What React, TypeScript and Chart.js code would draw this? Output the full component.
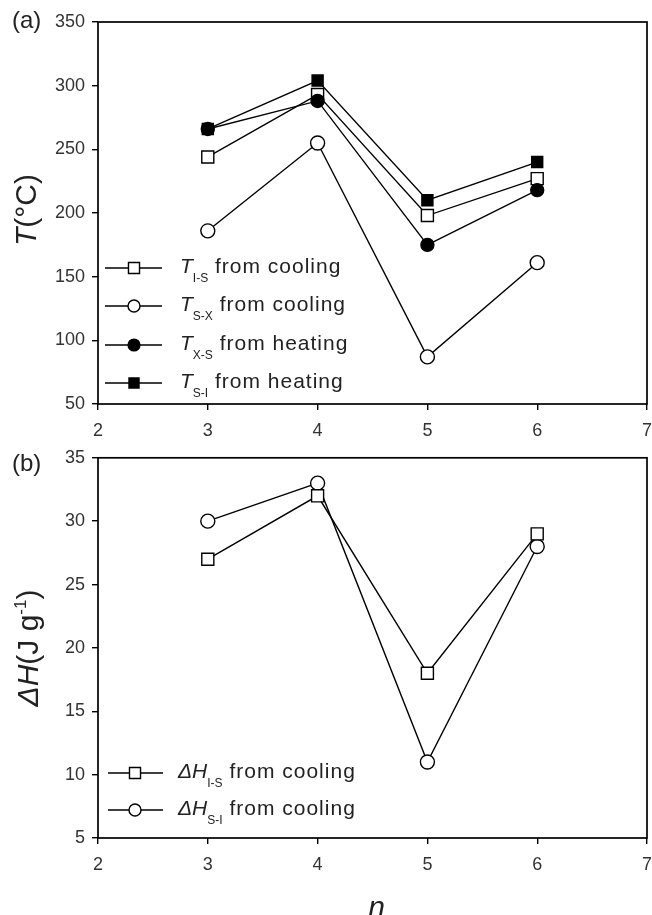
import React, { useEffect, useRef } from 'react';
import { Chart, registerables } from 'chart.js';

Chart.register(...registerables);

const FONT = '"Liberation Sans", Arial, Helvetica, sans-serif';

// ---- data ----
const nValues = [3, 4, 5, 6];
const tIS = [244, 293, 198, 227];
const tSX = [186, 255, 87, 161];
const tXS = [266, 288, 175, 218];
const tSI = [266, 304, 210, 240];
const dhIS = [27, 32, 18, 29];
const dhSI = [30, 33, 11, 28];

const xMin = 2;
const xMax = 7;
const xStep = 1;
const tMin = 50;
const tMax = 350;
const tStep = 50;
const hMin = 5;
const hMax = 35;
const hStep = 5;

// ---- layout ----
const CANVAS_W = 672;
const PLOT_LEFT = 98;
const PLOT_RIGHT = 647;
const TOP_H = 440;
const BOT_TOP = 440;
const BOT_H = 475;

type Marker = { style: 'rect' | 'circle'; fill: string; radius: number; legendRadius: number };

const openSquare: Marker = { style: 'rect', fill: '#ffffff', radius: 8.5, legendRadius: 7.8 };
const openCircle: Marker = { style: 'circle', fill: '#ffffff', radius: 7, legendRadius: 6 };
const filledCircle: Marker = { style: 'circle', fill: '#000000', radius: 6.5, legendRadius: 5.9 };
const filledSquare: Marker = { style: 'rect', fill: '#000000', radius: 7.8, legendRadius: 7.1 };

type LegendEntry = { main: string; sub: string; rest: string; marker: Marker };

const topLegend: LegendEntry[] = [
  { main: 'T', sub: 'I-S', rest: ' from cooling', marker: openSquare },
  { main: 'T', sub: 'S-X', rest: ' from cooling', marker: openCircle },
  { main: 'T', sub: 'X-S', rest: ' from heating', marker: filledCircle },
  { main: 'T', sub: 'S-I', rest: ' from heating', marker: filledSquare },
];
const botLegend: LegendEntry[] = [
  { main: '\u0394H', sub: 'I-S', rest: ' from cooling', marker: openSquare },
  { main: '\u0394H', sub: 'S-I', rest: ' from cooling', marker: openCircle },
];

type Seg = { text: string; size: number; italic?: boolean; dy?: number; spacing?: number };

function fontOf(s: Seg) {
  return `${s.italic ? 'italic ' : ''}${s.size}px ${FONT}`;
}

function measureSegs(ctx: CanvasRenderingContext2D, segs: Seg[]) {
  let w = 0;
  for (const s of segs) {
    ctx.font = fontOf(s);
    (ctx as any).letterSpacing = `${s.spacing || 0}px`;
    w += ctx.measureText(s.text).width;
  }
  return w;
}

function drawSegs(ctx: CanvasRenderingContext2D, segs: Seg[], x: number, y: number) {
  let cx = x;
  ctx.textAlign = 'left';
  ctx.textBaseline = 'alphabetic';
  for (const s of segs) {
    ctx.font = fontOf(s);
    (ctx as any).letterSpacing = `${s.spacing || 0}px`;
    ctx.fillText(s.text, cx, y + (s.dy || 0));
    cx += ctx.measureText(s.text).width;
  }
  (ctx as any).letterSpacing = '0px';
}

function drawMarker(ctx: CanvasRenderingContext2D, m: Marker, x: number, y: number, r: number) {
  ctx.beginPath();
  if (m.style === 'rect') {
    const s = r / Math.SQRT2;
    ctx.rect(x - s, y - s, 2 * s, 2 * s);
  } else {
    ctx.arc(x, y, r, 0, Math.PI * 2);
  }
  ctx.fillStyle = m.fill;
  ctx.fill();
  ctx.lineWidth = 1.4;
  ctx.strokeStyle = '#000';
  ctx.stroke();
}

function drawLegend(
  ctx: CanvasRenderingContext2D,
  entries: LegendEntry[],
  rows: number[],
  lineX0: number,
  lineX1: number,
  markX: number,
  textX: number,
) {
  entries.forEach((e, i) => {
    const y = rows[i];
    ctx.beginPath();
    ctx.moveTo(lineX0, y);
    ctx.lineTo(lineX1, y);
    ctx.lineWidth = 1.4;
    ctx.strokeStyle = '#000';
    ctx.stroke();
    drawMarker(ctx, e.marker, markX, y, e.marker.legendRadius);
    ctx.fillStyle = '#222';
    drawSegs(
      ctx,
      [
        { text: e.main, size: 21, italic: true },
        { text: e.sub, size: 12, dy: 9 },
        { text: e.rest, size: 21, spacing: 1 },
      ],
      textX,
      y + 4.5,
    );
  });
}

function drawRotated(ctx: CanvasRenderingContext2D, segs: Seg[], baseX: number, centerY: number) {
  ctx.save();
  ctx.translate(baseX, centerY);
  ctx.rotate(-Math.PI / 2);
  const w = measureSegs(ctx, segs);
  ctx.fillStyle = '#222';
  drawSegs(ctx, segs, -w / 2, 0);
  ctx.restore();
}

const framePlugin = {
  id: 'frame',
  afterDraw(chart: any) {
    const { ctx, chartArea: a } = chart;
    ctx.save();
    ctx.strokeStyle = '#000';
    ctx.lineWidth = 1.7;
    ctx.strokeRect(a.left, a.top, a.right - a.left, a.bottom - a.top);
    ctx.restore();
  },
};

const topTextPlugin = {
  id: 'topText',
  afterDraw(chart: any) {
    const ctx: CanvasRenderingContext2D = chart.ctx;
    ctx.save();
    ctx.fillStyle = '#222';
    drawSegs(ctx, [{ text: '(a)', size: 24 }], 12, 28);
    drawRotated(
      ctx,
      [
        { text: 'T', size: 30, italic: true },
        { text: '(\u00B0C)', size: 30 },
      ],
      36,
      210,
    );
    drawLegend(ctx, topLegend, [268, 306, 345, 383], 105, 162, 134, 180);
    ctx.restore();
  },
};

const botTextPlugin = {
  id: 'botText',
  afterDraw(chart: any) {
    const ctx: CanvasRenderingContext2D = chart.ctx;
    ctx.save();
    ctx.fillStyle = '#222';
    drawSegs(ctx, [{ text: '(b)', size: 24 }], 12, 31);
    drawRotated(
      ctx,
      [
        { text: '\u0394H', size: 30, italic: true },
        { text: '(J g', size: 30 },
        { text: '-1', size: 17, dy: -12 },
        { text: ')', size: 30 },
      ],
      38,
      208,
    );
    drawLegend(ctx, botLegend, [773 - BOT_TOP, 810 - BOT_TOP], 108, 163, 135, 178);
    // x-axis title
    ctx.fillStyle = '#222';
    ctx.font = `italic 30px ${FONT}`;
    ctx.textAlign = 'center';
    ctx.textBaseline = 'alphabetic';
    ctx.fillText('n', (PLOT_LEFT + PLOT_RIGHT) / 2 + 4, 917 - BOT_TOP);
    ctx.restore();
  },
};

function ds(label: string, values: number[], m: Marker) {
  return {
    label,
    data: nValues.map((x, i) => ({ x, y: values[i] })),
    borderColor: '#000',
    borderWidth: 1.4,
    pointStyle: m.style,
    pointRadius: m.radius,
    pointHoverRadius: m.radius,
    pointBackgroundColor: m.fill,
    pointBorderColor: '#000',
    pointBorderWidth: 1.4,
    tension: 0,
    fill: false,
  };
}

function makeConfig(
  datasets: any[],
  yMin: number,
  yMax: number,
  yStep: number,
  topPad: number,
  xAxisH: number,
  textPlugin: any,
): any {
  const tickFont = { family: FONT, size: 18 };
  const grid = {
    display: true,
    drawOnChartArea: false,
    drawTicks: true,
    tickLength: 6,
    color: '#000',
    lineWidth: 1.4,
  };
  return {
    type: 'line',
    data: { datasets },
    options: {
      animation: false,
      responsive: false,
      devicePixelRatio: 1,
      events: [],
      layout: { padding: { left: 0, right: CANVAS_W - PLOT_RIGHT, top: topPad, bottom: 0 } },
      plugins: { legend: { display: false }, tooltip: { enabled: false }, title: { display: false } },
      scales: {
        x: {
          type: 'linear',
          min: xMin,
          max: xMax,
          ticks: { stepSize: xStep, padding: 10, font: tickFont, color: '#333' },
          grid,
          border: { display: false },
          afterFit: (s: any) => {
            s.height = xAxisH;
          },
        },
        y: {
          type: 'linear',
          min: yMin,
          max: yMax,
          ticks: { stepSize: yStep, padding: 7, font: tickFont, color: '#333' },
          grid,
          border: { display: false },
          afterFit: (s: any) => {
            s.width = PLOT_LEFT;
          },
        },
      },
    },
    plugins: [framePlugin, textPlugin],
  };
}

export default function App() {
  const topRef = useRef<HTMLCanvasElement>(null);
  const botRef = useRef<HTMLCanvasElement>(null);

  useEffect(() => {
    const top = new Chart(
      topRef.current as HTMLCanvasElement,
      makeConfig(
        [
          ds('T S-X from cooling', tSX, openCircle),
          ds('T X-S from heating', tXS, filledCircle),
          ds('T I-S from cooling', tIS, openSquare),
          ds('T S-I from heating', tSI, filledSquare),
        ],
        tMin,
        tMax,
        tStep,
        22,
        TOP_H - 404,
        topTextPlugin,
      ),
    );
    const bot = new Chart(
      botRef.current as HTMLCanvasElement,
      makeConfig(
        [ds('ΔH I-S from cooling', dhIS, openSquare), ds('ΔH S-I from cooling', dhSI, openCircle)],
        hMin,
        hMax,
        hStep,
        456 - BOT_TOP,
        BOT_H - (838 - BOT_TOP),
        botTextPlugin,
      ),
    );
    return () => {
      top.destroy();
      bot.destroy();
    };
  }, []);

  return (
    <div
      style={{
        position: 'absolute',
        left: 0,
        top: 0,
        width: 652,
        height: 915,
        overflow: 'hidden',
        background: '#fff',
      }}
    >
      <canvas
        ref={topRef}
        width={CANVAS_W}
        height={TOP_H}
        style={{ position: 'absolute', left: 0, top: 0, width: CANVAS_W, height: TOP_H }}
      />
      <canvas
        ref={botRef}
        width={CANVAS_W}
        height={BOT_H}
        style={{ position: 'absolute', left: 0, top: BOT_TOP, width: CANVAS_W, height: BOT_H }}
      />
    </div>
  );
}
